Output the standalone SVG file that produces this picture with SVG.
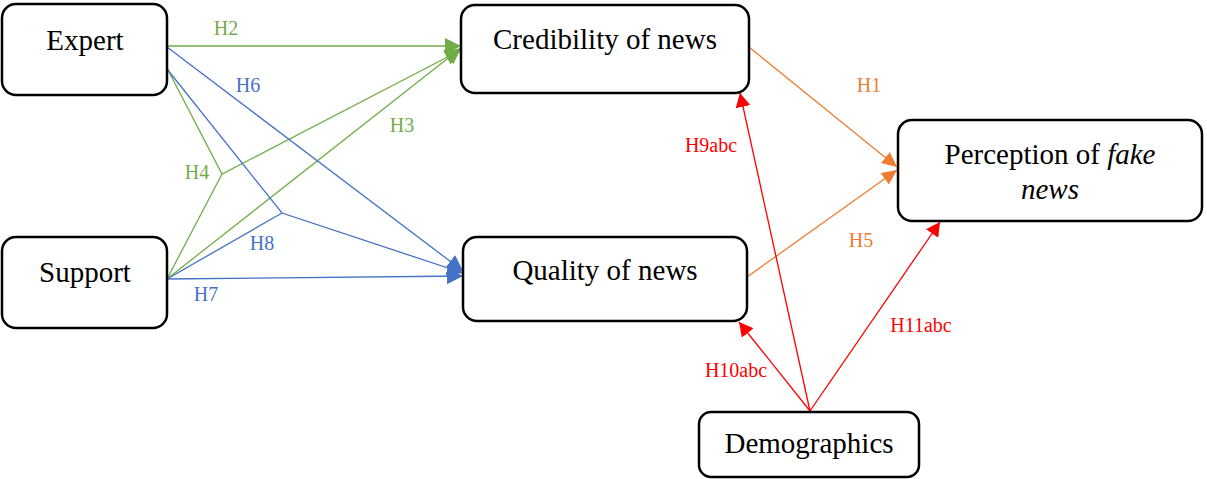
<svg xmlns="http://www.w3.org/2000/svg" width="1207" height="479" viewBox="0 0 1207 479">
  <style>
    .box { fill: #ffffff; stroke: #000000; stroke-width: 2.5; }
    .node-text { font-family: 'Liberation Serif', 'DejaVu Serif', serif; font-size: 29px; fill: #000000; text-anchor: middle; }
    .lbl { font-family: 'Liberation Serif', 'DejaVu Serif', serif; font-size: 20px; text-anchor: middle; }
    .conn { fill: none; stroke-width: 1.3; stroke-linejoin: miter; }
    .green { stroke: #70AD47; }
    .blue { stroke: #4472C4; }
    .orange { stroke: #ED7D31; }
    .red { stroke: #FF0000; }
  </style>
  <defs>
    <marker id="arrow-green" markerUnits="userSpaceOnUse" markerWidth="16" markerHeight="16" viewBox="0 0 16 16" refX="16" refY="8" orient="auto">
      <path d="M0,0 L16,8 L0,16 Z" fill="#70AD47"/>
    </marker>
    <marker id="arrow-blue" markerUnits="userSpaceOnUse" markerWidth="16" markerHeight="16" viewBox="0 0 16 16" refX="16" refY="8" orient="auto">
      <path d="M0,0 L16,8 L0,16 Z" fill="#4472C4"/>
    </marker>
    <marker id="arrow-orange" markerUnits="userSpaceOnUse" markerWidth="15" markerHeight="14" viewBox="0 0 15 14" refX="15" refY="7" orient="auto">
      <path d="M0,0 L15,7 L0,14 Z" fill="#ED7D31"/>
    </marker>
    <marker id="arrow-red" markerUnits="userSpaceOnUse" markerWidth="14" markerHeight="15" viewBox="0 0 14 15" refX="14" refY="7.5" orient="auto">
      <path d="M0,0 L14,7.5 L0,15 Z" fill="#FF0000"/>
    </marker>
  </defs>

  <!-- connectors -->
  <g id="connectors">
    <!-- green paths into Credibility of news -->
    <path class="conn green" d="M167,46 L461,46" marker-end="url(#arrow-green)"/>
    <path class="conn green" d="M167,279 L461,48" marker-end="url(#arrow-green)"/>
    <path class="conn green" d="M167,68 L222,174 L461,50" marker-end="url(#arrow-green)"/>
    <path class="conn green" d="M167,279 L222,174"/>
    <!-- blue paths into Quality of news -->
    <path class="conn blue" d="M167,47 L463,271" marker-end="url(#arrow-blue)"/>
    <path class="conn blue" d="M167,69 L282,213 L463,273" marker-end="url(#arrow-blue)"/>
    <path class="conn blue" d="M167,279 L282,213"/>
    <path class="conn blue" d="M167,279 L463,276" marker-end="url(#arrow-blue)"/>
    <!-- orange paths into Perception of fake news -->
    <path class="conn orange" d="M749,47 L897,167" marker-end="url(#arrow-orange)"/>
    <path class="conn orange" d="M747,277 L897,170" marker-end="url(#arrow-orange)"/>
    <!-- red paths from Demographics -->
    <path class="conn red" d="M810,411 L740,93" marker-end="url(#arrow-red)"/>
    <path class="conn red" d="M810,411 L739,322" marker-end="url(#arrow-red)"/>
    <path class="conn red" d="M810,411 L940,222" marker-end="url(#arrow-red)"/>
  </g>

  <!-- connector labels -->
  <g id="labels">
    <text class="lbl" x="226" y="35" fill="#70AD47">H2</text>
    <text class="lbl" x="402" y="132" fill="#70AD47">H3</text>
    <text class="lbl" x="197" y="179" fill="#70AD47">H4</text>
    <text class="lbl" x="248" y="92" fill="#4472C4">H6</text>
    <text class="lbl" x="262" y="250" fill="#4472C4">H8</text>
    <text class="lbl" x="206" y="301" fill="#4472C4">H7</text>
    <text class="lbl" x="869" y="92" fill="#ED7D31">H1</text>
    <text class="lbl" x="861" y="247" fill="#ED7D31">H5</text>
    <text class="lbl" x="711" y="152" fill="#FF0000">H9abc</text>
    <text class="lbl" x="736" y="377" fill="#FF0000">H10abc</text>
    <text class="lbl" x="921" y="332" fill="#FF0000">H11abc</text>
  </g>

  <!-- nodes -->
  <g id="expert">
    <rect class="box" x="2" y="4" width="165" height="91" rx="14"/>
    <text class="node-text" x="85" y="50">Expert</text>
  </g>
  <g id="support">
    <rect class="box" x="2" y="237" width="165" height="91" rx="14"/>
    <text class="node-text" x="85" y="282">Support</text>
  </g>
  <g id="credibility">
    <rect class="box" x="461" y="5" width="288" height="88" rx="14"/>
    <text class="node-text" x="605" y="49">Credibility of news</text>
  </g>
  <g id="quality">
    <rect class="box" x="463" y="237" width="284" height="84" rx="14"/>
    <text class="node-text" x="605" y="280">Quality of news</text>
  </g>
  <g id="perception">
    <rect class="box" x="898" y="120" width="304" height="101" rx="14"/>
    <text class="node-text" x="1050" y="164">Perception of <tspan font-style="italic">fake</tspan></text>
    <text class="node-text" x="1050" y="199" font-style="italic">news</text>
  </g>
  <g id="demographics">
    <rect class="box" x="699" y="412" width="220" height="65" rx="12"/>
    <text class="node-text" x="809" y="453">Demographics</text>
  </g>
</svg>
